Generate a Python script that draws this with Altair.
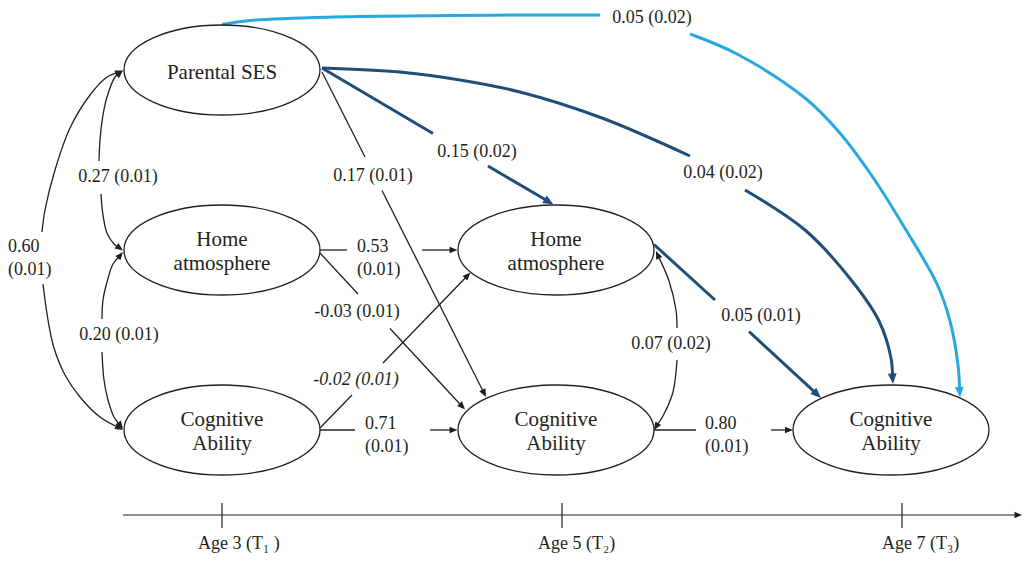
import math
import altair as alt
import pandas as pd

INK = "#231F20"
DARK = "#1F4E79"
LIGHT = "#29A8E0"
SERIF = "Liberation Serif, Times New Roman, Times, DejaVu Serif, serif"

# ---------------- values ----------------
node_lines = [["Parental SES"], ["Home", "atmosphere"], ["Cognitive", "Ability"],
              ["Home", "atmosphere"], ["Cognitive", "Ability"], ["Cognitive", "Ability"]]
node_wave = ["T1", "T1", "T1", "T2", "T2", "T3"]

path_names = ["SES-COG1", "SES-HOME1", "HOME1-COG1", "HOME1-HOME2", "HOME1-COG2",
              "COG1-HOME2", "COG1-COG2", "SES-COG2", "SES-HOME2", "SES-COG3",
              "HOME2-COG3", "HOME2-COG2", "COG2-COG3", "SES-COG3b"]
path_estimate = [0.60, 0.27, 0.20, 0.53, -0.03, -0.02, 0.71, 0.17, 0.15, 0.04, 0.05, 0.07, 0.80, 0.05]
path_se = [0.01, 0.01, 0.01, 0.01, 0.01, 0.01, 0.01, 0.01, 0.02, 0.02, 0.01, 0.02, 0.01, 0.02]

wave_labels = ["Age 3 (T\u2081 )", "Age 5 (T\u2082)", "Age 7 (T\u2083)"]

# ---------------- layout (pixel space of the page) ----------------
node_cx = [222, 222, 222, 556, 556, 891]
node_cy = [70, 250, 430, 250, 430, 430]
RX, RY = 98.0, 45.0

# per path: style, segments, start arrow, end arrow, label (x, y, align, split, italic)
paths = [
    dict(kind="ink", a0=True, a1=True,
         segs=[[(123, 70.5), (107, 77), (90, 95), (70, 128), (55, 170), (45, 210), (42, 232)],
               [(43, 284), (48, 320), (54, 348), (65, 375), (80, 397), (100, 417), (123, 430)]],
         lab=(8, 247, "left", True, False)),
    dict(kind="ink", a0=True, a1=True,
         segs=[[(123, 70.5), (115, 77), (107, 97), (103, 115), (100, 140), (99, 161)],
               [(101, 194), (103, 215), (107, 233), (114, 244), (123, 250.5)]],
         lab=(118, 177, "center", False, False)),
    dict(kind="ink", a0=True, a1=True,
         segs=[[(123, 252), (113, 264), (107, 282), (103, 300), (102, 319)],
               [(102, 352), (104, 380), (108, 400), (114, 417), (123, 429)]],
         lab=(119, 335, "center", False, False)),
    dict(kind="ink", a0=False, a1=True,
         segs=[[(320, 250), (347, 250)], [(422, 250), (457.5, 250)]],
         lab=(357, 247, "left", True, False)),
    dict(kind="ink", a0=False, a1=True,
         segs=[[(320, 253), (358, 294)], [(390, 328.5), (465, 409.5)]],
         lab=(357, 312, "center", False, False)),
    dict(kind="ink", a0=False, a1=True,
         segs=[[(320, 428), (352, 395)], [(383, 363), (470.5, 272.5)]],
         lab=(356, 380, "center", False, True)),
    dict(kind="ink", a0=False, a1=True,
         segs=[[(320, 430), (355, 430)], [(430, 430), (457.5, 430)]],
         lab=(365, 424, "left", True, False)),
    dict(kind="ink", a0=False, a1=True,
         segs=[[(322, 72), (365, 157)], [(382, 190.5), (486, 397)]],
         lab=(373, 176, "center", False, False)),
    dict(kind="dark", a0=False, a1=True,
         segs=[[(322, 68), (433, 133.5)], [(488, 166), (553.5, 204.5)]],
         lab=(477, 152, "center", False, False)),
    dict(kind="dark", a0=False, a1=True,
         segs=[[(322, 68), (400, 72), (460, 80), (520, 92), (602, 118), (690, 156)],
               [(745, 190), (805, 230), (852, 281), (879, 321), (891, 358), (893, 384)]],
         lab=(723, 173, "center", False, False)),
    dict(kind="dark", a0=False, a1=True,
         segs=[[(654, 244.5), (715, 300)], [(749, 331.5), (821, 398)]],
         lab=(761, 316, "center", False, False)),
    dict(kind="ink", a0=True, a1=True,
         segs=[[(656, 251), (669, 281), (676, 310), (677, 328)],
               [(677, 360), (673, 392), (664, 414), (654, 430)]],
         lab=(671, 344, "center", False, False)),
    dict(kind="ink", a0=False, a1=True,
         segs=[[(654, 430), (696, 430)], [(771, 430), (793, 430)]],
         lab=(705, 424, "left", True, False)),
    dict(kind="light", a0=False, a1=True,
         segs=[[(222, 24.5), (250, 20.5), (333, 17), (450, 15.5), (520, 15), (600, 15)],
               [(690, 34), (737, 54), (805, 98), (839, 132), (872, 176), (906, 230),
                (937, 284), (950, 321), (958, 365), (960, 397.5)]],
         lab=(652, 18, "center", False, False)),
]

axis_y = 515
axis_x0, axis_x1 = 123, 1022
tick_x = [222, 562, 902]
tick_y0, tick_y1 = 503, 528
axis_label_x = [198, 538, 882]
axis_base = 549

STYLE = {"ink": (INK, 1.3, 8.0), "dark": (DARK, 3.0, 10.5), "light": (LIGHT, 3.0, 10.5)}

# ---------------- build tables ----------------
line_rows, arrow_rows = [], []


def arrow(tip, prev, color, L):
    dx, dy = tip[0] - prev[0], tip[1] - prev[1]
    ang = math.degrees(math.atan2(dx, -dy)) % 360
    arrow_rows.append(dict(x=tip[0], y=tip[1], angle=ang, color=color, size=(2 * L) ** 2))
    n = math.hypot(dx, dy)
    return (tip[0] - dx / n * L * 0.6, tip[1] - dy / n * L * 0.6)


seg_id = 0
for p in paths:
    color, width, L = STYLE[p["kind"]]
    segs = [list(s) for s in p["segs"]]
    if p["a1"]:
        segs[-1][-1] = arrow(segs[-1][-1], segs[-1][-2], color, L)
    if p["a0"]:
        segs[0][0] = arrow(segs[0][0], segs[0][1], color, L)
    for s in segs:
        for i, (x, y) in enumerate(s):
            line_rows.append(dict(x=x, y=y, seg=seg_id, i=i, color=color, w=width))
        seg_id += 1

# time axis
axis_pts = [(axis_x0, axis_y), (axis_x1, axis_y)]
axis_pts[-1] = arrow(axis_pts[-1], axis_pts[0], INK, 7.5)
for i, (x, y) in enumerate(axis_pts):
    line_rows.append(dict(x=x, y=y, seg=seg_id, i=i, color=INK, w=1.2))
seg_id += 1
for tx in tick_x:
    for i, ty in enumerate([tick_y0, tick_y1]):
        line_rows.append(dict(x=tx, y=ty, seg=seg_id, i=i, color=INK, w=1.2))
    seg_id += 1

lines_df = pd.DataFrame(line_rows)
arrows_df = pd.DataFrame(arrow_rows)
nodes_df = pd.DataFrame(dict(x=node_cx, y=node_cy, wave=node_wave))

node_text = []
for lines, cx, cy in zip(node_lines, node_cx, node_cy):
    if len(lines) == 1:
        node_text.append(dict(x=cx, y=cy + 8.5, text=lines[0]))
    else:
        node_text.append(dict(x=cx, y=cy - 4.5, text=lines[0]))
        node_text.append(dict(x=cx, y=cy + 19.5, text=lines[1]))
node_text_df = pd.DataFrame(node_text)

lab_center, lab_left, lab_italic = [], [], []
for p, est, se in zip(paths, path_estimate, path_se):
    x, y, align, split, italic = p["lab"]
    if split:
        lab_left.append(dict(x=x, y=y, text=f"{est:.2f}"))
        lab_left.append(dict(x=x, y=y + 23, text=f"({se:.2f})"))
    elif italic:
        lab_italic.append(dict(x=x, y=y, text=f"{est:.2f} ({se:.2f})"))
    else:
        lab_center.append(dict(x=x, y=y, text=f"{est:.2f} ({se:.2f})"))

axis_main = pd.DataFrame([dict(x=ax, y=axis_base, text=t) for ax, t in zip(axis_label_x, wave_labels)])

# ---------------- chart ----------------
XS = alt.Scale(domain=[8, 1023], nice=False, zero=False)
YS = alt.Scale(domain=[8, 554], nice=False, zero=False, reverse=True)
X = alt.X("x:Q", scale=XS, axis=None)
Y = alt.Y("y:Q", scale=YS, axis=None)

ELLIPSE = f"M -1 0 A 1 {RY / RX:.4f} 0 1 1 1 0 A 1 {RY / RX:.4f} 0 1 1 -1 0 Z"
ARROW = "M 0 0 L 0.42 1 L -0.42 1 Z"

lines = alt.Chart(lines_df).mark_line(interpolate="catmull-rom", strokeCap="butt").encode(
    x=X, y=Y, detail="seg:N", order="i:Q",
    color=alt.Color("color:N", scale=None),
    strokeWidth=alt.StrokeWidth("w:Q", scale=None))

ellipses = alt.Chart(nodes_df).mark_point(
    shape=ELLIPSE, size=(2 * RX) ** 2, filled=False, color=INK, strokeWidth=1.3, opacity=1
).encode(x=X, y=Y)

arrows = alt.Chart(arrows_df).mark_point(shape=ARROW, filled=True, opacity=1, strokeWidth=0).encode(
    x=X, y=Y, angle=alt.Angle("angle:Q", scale=None),
    color=alt.Color("color:N", scale=None),
    size=alt.Size("size:Q", scale=None))


def texts(df, size, align, baseline, style="normal"):
    return alt.Chart(pd.DataFrame(df)).mark_text(
        font=SERIF, fontSize=size, align=align, baseline=baseline, color=INK, fontStyle=style
    ).encode(x=X, y=Y, text="text:N")


chart = alt.layer(
    lines, ellipses, arrows,
    texts(node_text_df, 21, "center", "alphabetic"),
    texts(lab_center, 18, "center", "middle"),
    texts(lab_left, 18, "left", "middle"),
    texts(lab_italic, 18, "center", "middle", "italic"),
    texts(axis_main, 18, "left", "alphabetic"),
).properties(
    width=1015, height=546, padding=0, autosize=alt.AutoSizeParams(type="none"),
    background="white"
).configure_view(strokeWidth=0)

chart.save("out.html", embed_options={"renderer": "svg", "actions": False})
